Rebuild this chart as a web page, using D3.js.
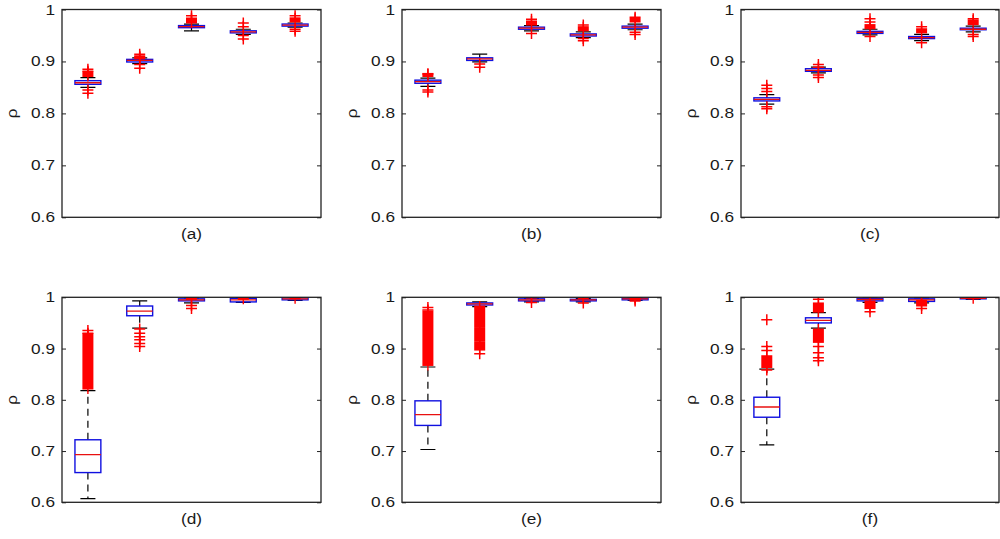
<!DOCTYPE html>
<html>
<head>
<meta charset="utf-8">
<script src="https://d3js.org/d3.v7.min.js"></script>
<style>
  body { margin: 0; background: #fff; }
  text { font-family: "Liberation Sans", Arial, sans-serif; fill: #1a1a1a; }
</style>
</head>
<body>
<script>

// ---- data ----
var panelLabels = ["(a)", "(b)", "(c)", "(d)", "(e)", "(f)"];
var groups = [1, 2, 3, 4, 5];
var yTicks = [0.6, 0.7, 0.8, 0.9, 1];
var yTickLabels = ["0.6", "0.7", "0.8", "0.9", "1"];

var q1s = [
  [0.856, 0.899, 0.965, 0.955, 0.968],
  [0.858, 0.902, 0.962, 0.949, 0.964],
  [0.824, 0.881, 0.954, 0.944, 0.961],
  [0.658, 0.964, 0.993, 0.991, 0.995],
  [0.750, 0.985, 0.993, 0.993, 0.995],
  [0.766, 0.950, 0.993, 0.992, 0.997]
];
var medians = [
  [0.859, 0.902, 0.967, 0.957, 0.970],
  [0.861, 0.905, 0.964, 0.951, 0.966],
  [0.827, 0.883, 0.956, 0.946, 0.962],
  [0.693, 0.973, 0.995, 0.995, 0.997],
  [0.771, 0.987, 0.995, 0.995, 0.997],
  [0.786, 0.955, 0.996, 0.995, 0.998]
];
var q3s = [
  [0.863, 0.904, 0.969, 0.959, 0.972],
  [0.864, 0.907, 0.966, 0.953, 0.968],
  [0.830, 0.886, 0.958, 0.948, 0.964],
  [0.722, 0.983, 0.997, 0.998, 0.999],
  [0.798, 0.989, 0.997, 0.996, 0.998],
  [0.805, 0.960, 0.998, 0.997, 0.999]
];
var whiskerLow = [
  [0.850, 0.896, 0.959, 0.952, 0.966],
  [0.852, 0.899, 0.959, 0.946, 0.961],
  [0.818, 0.878, 0.951, 0.940, 0.957],
  [0.607, 0.940, 0.989, 0.990, 0.994],
  [0.703, 0.982, 0.991, 0.991, 0.994],
  [0.712, 0.940, 0.990, 0.989, 0.996]
];
var whiskerHigh = [
  [0.869, 0.907, 0.972, 0.962, 0.974],
  [0.868, 0.914, 0.969, 0.957, 0.972],
  [0.836, 0.889, 0.962, 0.952, 0.968],
  [0.818, 0.993, 0.999, 1.000, 1.000],
  [0.864, 0.991, 0.998, 0.998, 0.999],
  [0.860, 0.970, 1.000, 0.999, 1.000]
];
// single '+' outliers
var outliers = [
  [[0.885, 0.881, 0.845, 0.839], [0.914, 0.908, 0.894, 0.887], [0.988, 0.983], [0.974, 0.967, 0.950, 0.943], [0.988, 0.962, 0.958]],
  [[0.876, 0.845, 0.841], [0.895, 0.889], [0.981, 0.954], [0.970, 0.944, 0.940], [0.985, 0.956, 0.952]],
  [[0.854, 0.848, 0.842, 0.813, 0.809], [0.894, 0.889, 0.874, 0.869], [0.982, 0.976, 0.948], [0.967, 0.936], [0.982, 0.952, 0.948]],
  [[0.935, 0.930], [0.938, 0.930, 0.923, 0.917, 0.910, 0.904], [0.984, 0.978], [], []],
  [[0.980, 0.975], [0.890], [0.999, 0.990], [0.998, 0.989], [1.000, 0.993]],
  [[0.956, 0.904, 0.896, 0.858], [0.996, 0.904, 0.892, 0.882, 0.876], [0.972], [1.000, 0.978], []]
];
// ranges where the '+' outliers pile up into a solid red block
var outlierBands = [
  [[[0.872, 0.879]], [[0.906, 0.910]], [[0.975, 0.980]], [], [[0.977, 0.983]]],
  [[[0.872, 0.876]], [], [[0.971, 0.977]], [[0.960, 0.966]], [[0.977, 0.982]]],
  [[], [], [[0.964, 0.970]], [[0.956, 0.962]], [[0.972, 0.979]]],
  [[[0.822, 0.928]], [], [[0.997, 1.000]], [[0.997, 1.000]], [[0.998, 1.000]]],
  [[[0.868, 0.972]], [[0.944, 0.982], [0.915, 0.940], [0.898, 0.911]], [], [], [[0.996, 1.000]]],
  [[[0.864, 0.885]], [[0.972, 0.988], [0.913, 0.937]], [[0.979, 0.992]], [[0.984, 0.993]], [[0.998, 1.000]]]
];

// ---- layout ----
var W = 1000, H = 539;
var cols = [[62, 321], [402, 661], [741, 999]];
var rows = [[9.5, 217.3], [297.3, 502.3]];
var mark = 11;     // '+' marker size
var stretch = 1.15; // the original text is a bit wide

var svg = d3.select("body").append("svg")
    .attr("width", W)
    .attr("height", H);

panelLabels.forEach(function(label, p) {
  var c = cols[p % 3], r = rows[Math.floor(p / 3)];

  var x = d3.scaleLinear().domain([0.5, 5.5]).range(c);
  var y = d3.scaleLinear().domain([0.6, 1]).range([r[1], r[0]]);
  var boxW = x(1.25) - x(0.75);
  var capW = boxW * 0.58;

  var g = svg.append("g");

  svg.append("clipPath").attr("id", "clip" + p)
    .append("rect")
      .attr("x", c[0]).attr("y", r[0])
      .attr("width", c[1] - c[0]).attr("height", r[1] - r[0]);

  var plot = g.append("g").attr("clip-path", "url(#clip" + p + ")");

  groups.forEach(function(k, i) {
    var cx = x(k);
    var bg = plot.append("g");

    // whiskers (dashed)
    bg.append("line")
        .attr("x1", cx).attr("x2", cx)
        .attr("y1", y(q3s[p][i])).attr("y2", y(whiskerHigh[p][i]))
        .attr("stroke", "#000").attr("stroke-width", 1.2)
        .attr("stroke-dasharray", "7,5");
    bg.append("line")
        .attr("x1", cx).attr("x2", cx)
        .attr("y1", y(q1s[p][i])).attr("y2", y(whiskerLow[p][i]))
        .attr("stroke", "#000").attr("stroke-width", 1.2)
        .attr("stroke-dasharray", "7,5");
    // caps
    [whiskerHigh[p][i], whiskerLow[p][i]].forEach(function(v) {
      bg.append("line")
          .attr("x1", cx - capW / 2).attr("x2", cx + capW / 2)
          .attr("y1", y(v)).attr("y2", y(v))
          .attr("stroke", "#000").attr("stroke-width", 1.2);
    });

    // box
    bg.append("rect")
        .attr("x", cx - boxW / 2)
        .attr("y", y(q3s[p][i]))
        .attr("width", boxW)
        .attr("height", Math.max(0, y(q1s[p][i]) - y(q3s[p][i])))
        .attr("fill", "none")
        .attr("stroke", "#1010e0").attr("stroke-width", 1.4);
    // median
    bg.append("line")
        .attr("x1", cx - boxW / 2).attr("x2", cx + boxW / 2)
        .attr("y1", y(medians[p][i])).attr("y2", y(medians[p][i]))
        .attr("stroke", "#e81010").attr("stroke-width", 1.3);

    // dense outliers
    outlierBands[p][i].forEach(function(b) {
      bg.append("rect")
          .attr("x", cx - mark / 2)
          .attr("y", y(b[1]) - 1)
          .attr("width", mark)
          .attr("height", y(b[0]) - y(b[1]) + 2)
          .attr("fill", "#f00");
      bg.append("line")
          .attr("x1", cx).attr("x2", cx)
          .attr("y1", y(b[1]) - mark / 2).attr("y2", y(b[0]) + mark / 2)
          .attr("stroke", "#f00").attr("stroke-width", 1.4);
    });

    // '+' outliers
    outliers[p][i].forEach(function(v) {
      bg.append("path")
          .attr("d", "M" + (cx - mark / 2) + "," + y(v) + "H" + (cx + mark / 2) +
                     "M" + cx + "," + (y(v) - mark / 2) + "V" + (y(v) + mark / 2))
          .attr("stroke", "#f00").attr("stroke-width", 1.5)
          .attr("fill", "none");
    });
  });

  // frame
  g.append("rect")
      .attr("x", c[0]).attr("y", r[0])
      .attr("width", c[1] - c[0]).attr("height", r[1] - r[0])
      .attr("fill", "none")
      .attr("stroke", "#222").attr("stroke-width", 1.3);

  // y axis, ticks inward on left and right
  g.append("g")
      .attr("transform", "translate(" + c[0] + ",0)")
      .call(d3.axisRight(y).tickValues(yTicks).tickSize(4).tickFormat(""))
      .call(function(a) { a.select(".domain").remove(); })
      .selectAll("line").attr("stroke", "#222");
  g.append("g")
      .attr("transform", "translate(" + c[1] + ",0)")
      .call(d3.axisLeft(y).tickValues(yTicks).tickSize(4).tickFormat(""))
      .call(function(a) { a.select(".domain").remove(); })
      .selectAll("line").attr("stroke", "#222");

  g.selectAll(".ticklabel")
    .data(yTicks)
    .enter().append("text")
      .attr("class", "ticklabel")
      .attr("transform", function(d) {
        return "translate(" + (c[0] - 7) + "," + (y(d) + 5) + ") scale(" + stretch + ",1)";
      })
      .attr("text-anchor", "end")
      .attr("font-size", 15)
      .text(function(d, j) { return yTickLabels[j]; });

  // y label
  var ym = (r[0] + r[1]) / 2;
  g.append("text")
      .attr("transform", "translate(" + (c[0] - 45) + "," + ym + ") rotate(-90) scale(" + stretch + ",1)")
      .attr("text-anchor", "middle")
      .attr("font-size", 15)
      .text("ρ");

  // panel label
  g.append("text")
      .attr("transform", "translate(" + ((c[0] + c[1]) / 2) + "," + (r[1] + 22) + ") scale(" + stretch + ",1)")
      .attr("text-anchor", "middle")
      .attr("font-size", 15)
      .text(label);
});

</script>
</body>
</html>
